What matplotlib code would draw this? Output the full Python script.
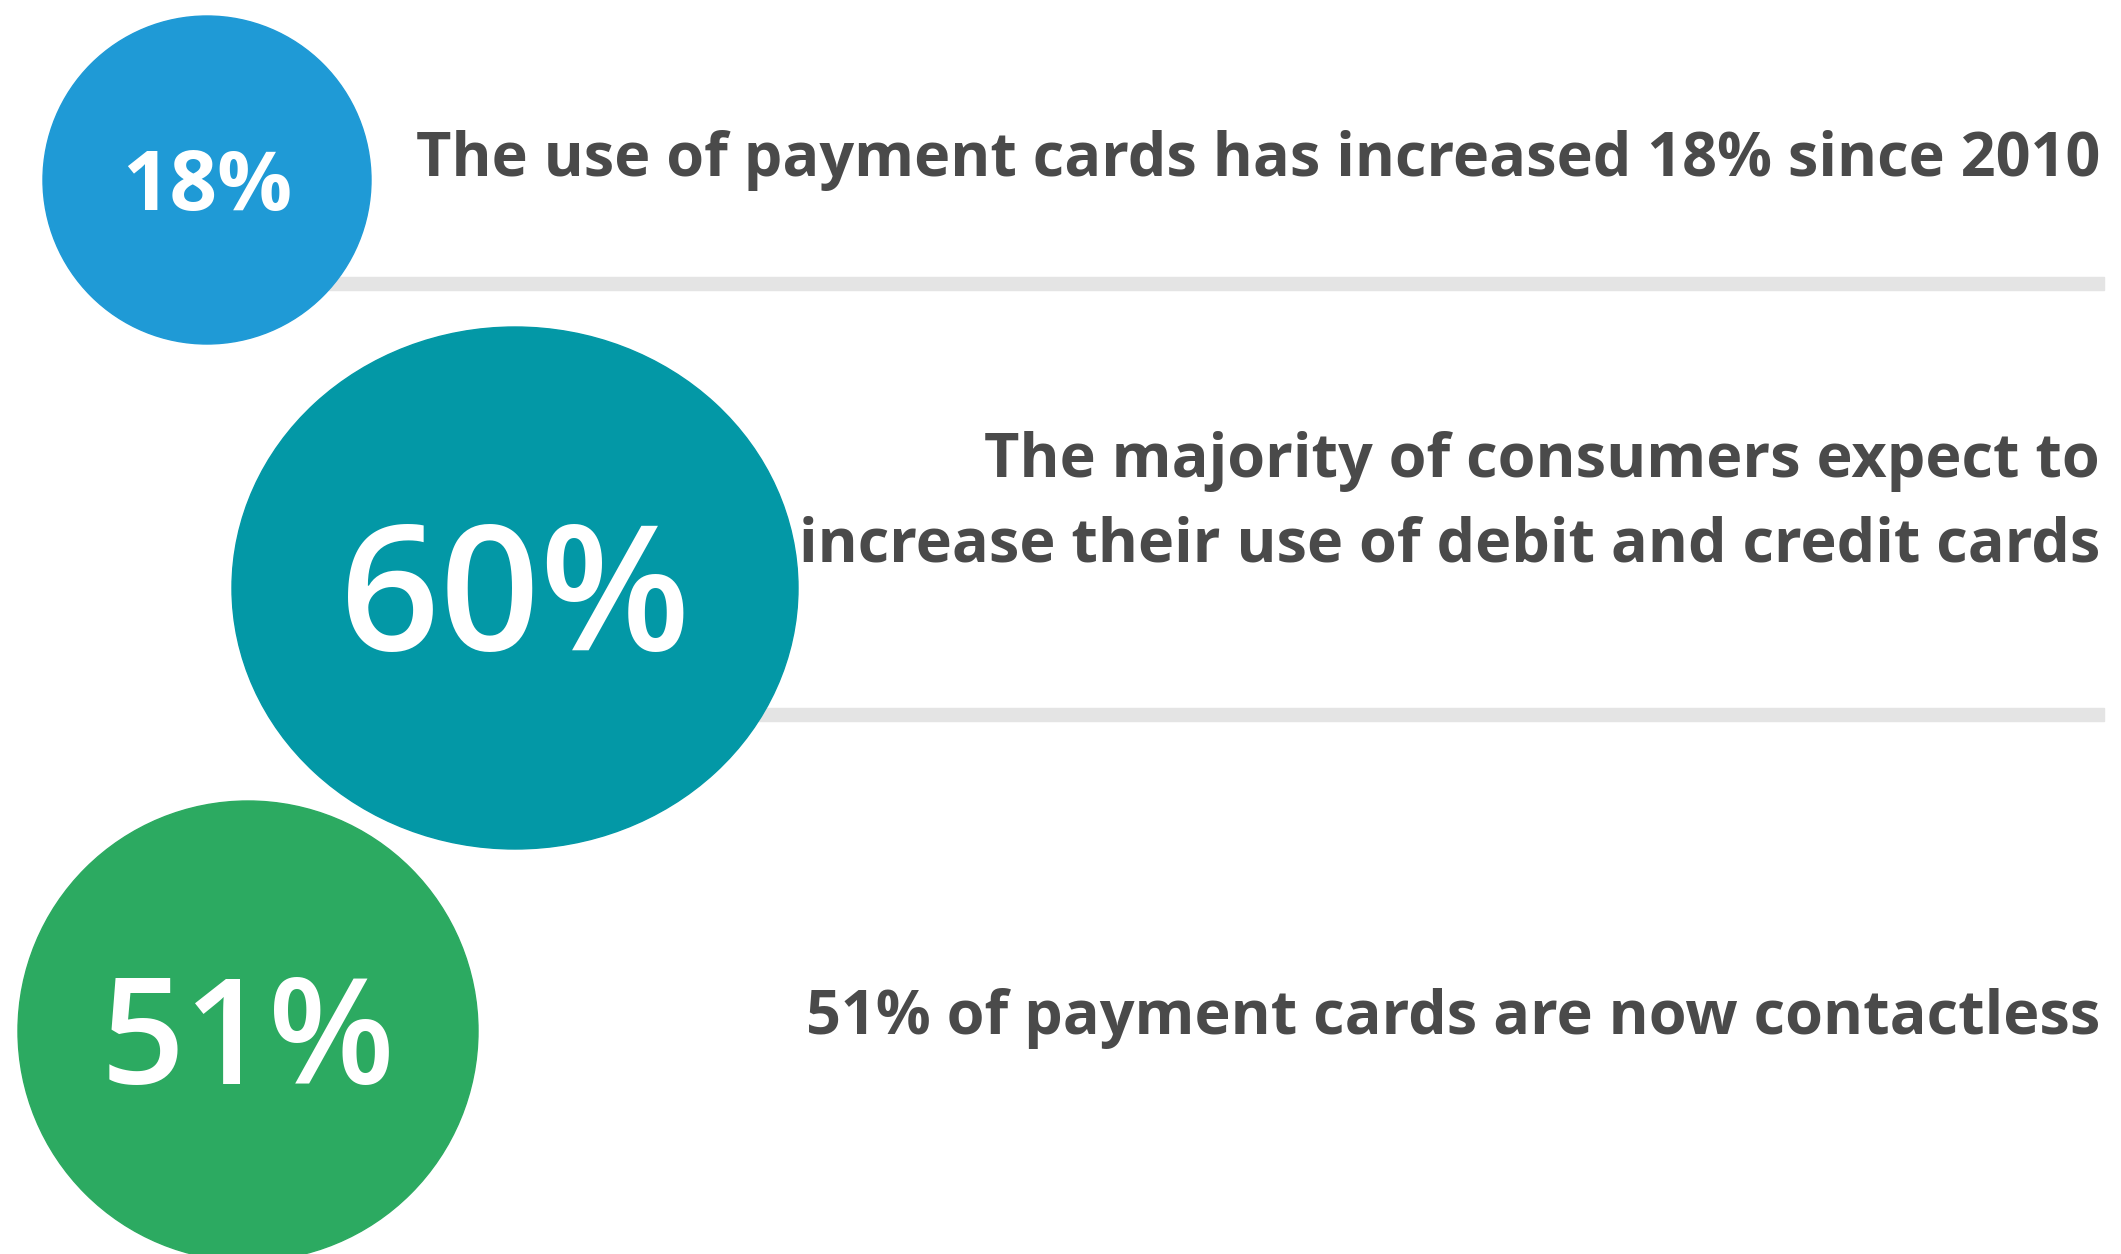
import matplotlib.pyplot as plt
from matplotlib.patches import Ellipse, Rectangle

plt.rcParams['font.family'] = ['Open Sans', 'DejaVu Sans']

# figures shown in the bubbles and the statement next to each one
values = [18, 60, 51]
statements = [
    "The use of payment cards has increased 18% since 2010",
    "The majority of consumers expect to\nincrease their use of debit and credit cards",
    "51% of payment cards are now contactless",
]
colors = ['#1F9AD6', '#0398A6', '#2CAA61']

# bubble geometry in pixels (x, y, half width, half height)
bubbles = [(207, 180, 164, 164), (515, 588, 283, 261), (248, 1031, 230, 230)]
label_sizes = [60, 126, 106]
label_weights = ['bold', 'semibold', 'semibold']
text_baselines = [176, 477, 1034]
divider_y = [283, 714]

W, H = 2121, 1254
fig = plt.figure(figsize=(W / 100, H / 100), dpi=100)
ax = fig.add_axes([0, 0, 1, 1])
ax.set_xlim(0, W)
ax.set_ylim(H, 0)
ax.axis('off')

# grey divider bars run from under a bubble out to the right edge
for i, y in enumerate(divider_y):
    x0 = bubbles[i][0]
    ax.add_patch(Rectangle((x0, y - 6.5), 2104 - x0, 13, color='#E4E4E4', zorder=1))

for (cx, cy, rx, ry), v, c, fs, fw in zip(bubbles, values, colors, label_sizes, label_weights):
    ax.add_patch(Ellipse((cx, cy), 2 * rx, 2 * ry, color=c, zorder=2))
    # baseline sits half a cap height below the centre
    ax.text(cx, cy + 0.357 * fs / 0.72, f"{v}%", color='white', fontsize=fs,
            fontweight=fw, ha='center', va='baseline', zorder=3)

for s, y in zip(statements, text_baselines):
    for k, line in enumerate(s.split('\n')):
        ax.text(2100, y + 85 * k, line, color='#4A4A4A', fontsize=44,
                fontweight='bold', ha='right', va='baseline', zorder=3)

fig.savefig('out.png', dpi=100)
